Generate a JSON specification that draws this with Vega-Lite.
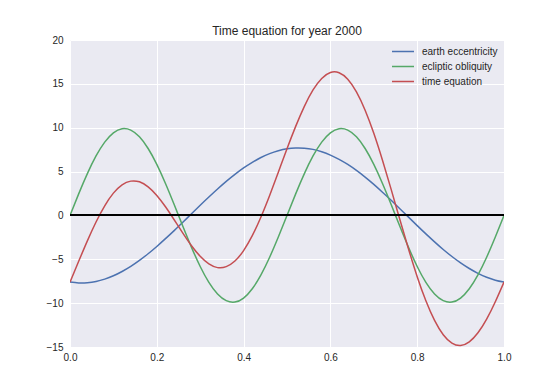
{
  "$schema": "https://vega.github.io/schema/vega-lite/v6.json",
  "autosize": {"type": "none"},
  "padding": {"left": 70, "top": 40, "right": 56, "bottom": 38},
  "width": 434,
  "height": 307,
  "background": "white",
  "title": {"text": "Time equation for year 2000", "fontSize": 12, "fontWeight": "normal", "font": "Liberation Sans", "color": "#262626", "offset": -3},
  "config": {
    "view": {"fill": "#EAEAF2", "stroke": null},
    "axis": {"grid": true, "gridColor": "white", "gridWidth": 1, "domain": false, "ticks": false, "labelFlush": false, "labelFont": "Liberation Sans", "labelFontSize": 10, "labelColor": "#262626", "title": null}
  },
  "data": {"values": [
    {"t": 0.00, "earth eccentricity": -7.60, "ecliptic obliquity": 0.00, "time equation": -7.60},
    {"t": 0.02, "earth eccentricity": -7.69, "ecliptic obliquity": 2.46, "time equation": -5.23},
    {"t": 0.04, "earth eccentricity": -7.67, "ecliptic obliquity": 4.77, "time equation": -2.90},
    {"t": 0.06, "earth eccentricity": -7.53, "ecliptic obliquity": 6.78, "time equation": -0.75},
    {"t": 0.08, "earth eccentricity": -7.26, "ecliptic obliquity": 8.36, "time equation": 1.10},
    {"t": 0.10, "earth eccentricity": -6.88, "ecliptic obliquity": 9.42, "time equation": 2.54},
    {"t": 0.12, "earth eccentricity": -6.39, "ecliptic obliquity": 9.88, "time equation": 3.49},
    {"t": 0.14, "earth eccentricity": -5.81, "ecliptic obliquity": 9.72, "time equation": 3.91},
    {"t": 0.16, "earth eccentricity": -5.13, "ecliptic obliquity": 8.96, "time equation": 3.83},
    {"t": 0.18, "earth eccentricity": -4.37, "ecliptic obliquity": 7.63, "time equation": 3.26},
    {"t": 0.20, "earth eccentricity": -3.54, "ecliptic obliquity": 5.82, "time equation": 2.28},
    {"t": 0.22, "earth eccentricity": -2.65, "ecliptic obliquity": 3.64, "time equation": 0.99},
    {"t": 0.24, "earth eccentricity": -1.73, "ecliptic obliquity": 1.24, "time equation": -0.49},
    {"t": 0.26, "earth eccentricity": -0.77, "ecliptic obliquity": -1.24, "time equation": -2.01},
    {"t": 0.28, "earth eccentricity": 0.19, "ecliptic obliquity": -3.64, "time equation": -3.45},
    {"t": 0.30, "earth eccentricity": 1.16, "ecliptic obliquity": -5.82, "time equation": -4.66},
    {"t": 0.32, "earth eccentricity": 2.10, "ecliptic obliquity": -7.63, "time equation": -5.53},
    {"t": 0.34, "earth eccentricity": 3.01, "ecliptic obliquity": -8.96, "time equation": -5.95},
    {"t": 0.36, "earth eccentricity": 3.88, "ecliptic obliquity": -9.72, "time equation": -5.84},
    {"t": 0.38, "earth eccentricity": 4.68, "ecliptic obliquity": -9.88, "time equation": -5.20},
    {"t": 0.40, "earth eccentricity": 5.41, "ecliptic obliquity": -9.42, "time equation": -4.01},
    {"t": 0.42, "earth eccentricity": 6.05, "ecliptic obliquity": -8.36, "time equation": -2.31},
    {"t": 0.44, "earth eccentricity": 6.60, "ecliptic obliquity": -6.78, "time equation": -0.18},
    {"t": 0.46, "earth eccentricity": 7.05, "ecliptic obliquity": -4.77, "time equation": 2.28},
    {"t": 0.48, "earth eccentricity": 7.38, "ecliptic obliquity": -2.46, "time equation": 4.92},
    {"t": 0.50, "earth eccentricity": 7.60, "ecliptic obliquity": 0.00, "time equation": 7.60},
    {"t": 0.52, "earth eccentricity": 7.69, "ecliptic obliquity": 2.46, "time equation": 10.15},
    {"t": 0.54, "earth eccentricity": 7.67, "ecliptic obliquity": 4.77, "time equation": 12.44},
    {"t": 0.56, "earth eccentricity": 7.53, "ecliptic obliquity": 6.78, "time equation": 14.31},
    {"t": 0.58, "earth eccentricity": 7.26, "ecliptic obliquity": 8.36, "time equation": 15.62},
    {"t": 0.60, "earth eccentricity": 6.88, "ecliptic obliquity": 9.42, "time equation": 16.30},
    {"t": 0.62, "earth eccentricity": 6.39, "ecliptic obliquity": 9.88, "time equation": 16.27},
    {"t": 0.64, "earth eccentricity": 5.81, "ecliptic obliquity": 9.72, "time equation": 15.53},
    {"t": 0.66, "earth eccentricity": 5.13, "ecliptic obliquity": 8.96, "time equation": 14.09},
    {"t": 0.68, "earth eccentricity": 4.37, "ecliptic obliquity": 7.63, "time equation": 12.00},
    {"t": 0.70, "earth eccentricity": 3.54, "ecliptic obliquity": 5.82, "time equation": 9.36},
    {"t": 0.72, "earth eccentricity": 2.65, "ecliptic obliquity": 3.64, "time equation": 6.29},
    {"t": 0.74, "earth eccentricity": 1.73, "ecliptic obliquity": 1.24, "time equation": 2.97},
    {"t": 0.76, "earth eccentricity": 0.77, "ecliptic obliquity": -1.24, "time equation": -0.47},
    {"t": 0.78, "earth eccentricity": -0.19, "ecliptic obliquity": -3.64, "time equation": -3.83},
    {"t": 0.80, "earth eccentricity": -1.16, "ecliptic obliquity": -5.82, "time equation": -6.98},
    {"t": 0.82, "earth eccentricity": -2.10, "ecliptic obliquity": -7.63, "time equation": -9.73},
    {"t": 0.84, "earth eccentricity": -3.01, "ecliptic obliquity": -8.96, "time equation": -11.97},
    {"t": 0.86, "earth eccentricity": -3.88, "ecliptic obliquity": -9.72, "time equation": -13.60},
    {"t": 0.88, "earth eccentricity": -4.68, "ecliptic obliquity": -9.88, "time equation": -14.56},
    {"t": 0.90, "earth eccentricity": -5.41, "ecliptic obliquity": -9.42, "time equation": -14.83},
    {"t": 0.92, "earth eccentricity": -6.05, "ecliptic obliquity": -8.36, "time equation": -14.41},
    {"t": 0.94, "earth eccentricity": -6.60, "ecliptic obliquity": -6.78, "time equation": -13.38},
    {"t": 0.96, "earth eccentricity": -7.05, "ecliptic obliquity": -4.77, "time equation": -11.82},
    {"t": 0.98, "earth eccentricity": -7.38, "ecliptic obliquity": -2.46, "time equation": -9.84},
    {"t": 1.00, "earth eccentricity": -7.60, "ecliptic obliquity": 0.00, "time equation": -7.60}
  ]},
  "layer": [
    {
      "transform": [{"fold": ["earth eccentricity", "ecliptic obliquity", "time equation"], "as": ["series", "value"]}],
      "mark": {"type": "line", "interpolate": "natural", "strokeWidth": 1.5, "clip": true},
      "encoding": {
        "x": {"field": "t", "type": "quantitative", "scale": {"domain": [0, 1], "nice": false}, "axis": {"values": [0, 0.2, 0.4, 0.6, 0.8, 1.0], "format": ".1f", "labelPadding": 5}},
        "y": {"field": "value", "type": "quantitative", "scale": {"domain": [-15, 20], "nice": false}, "axis": {"values": [-15, -10, -5, 0, 5, 10, 15, 20], "labelPadding": 7}},
        "color": {"field": "series", "type": "nominal",
          "scale": {"domain": ["earth eccentricity", "ecliptic obliquity", "time equation"], "range": ["#4C72B0", "#55A868", "#C44E52"]},
          "legend": {"title": null, "orient": "none", "legendX": 321, "legendY": 4, "symbolType": "stroke", "symbolSize": 484, "symbolStrokeWidth": 1.5, "labelFont": "Liberation Sans", "labelFontSize": 10, "labelColor": "#262626", "labelOffset": 7, "clipHeight": 15, "rowPadding": 0}
        }
      }
    },
    {
      "mark": {"type": "rule", "color": "black", "strokeWidth": 1.3},
      "encoding": {"y": {"datum": 0}}
    }
  ]
}
